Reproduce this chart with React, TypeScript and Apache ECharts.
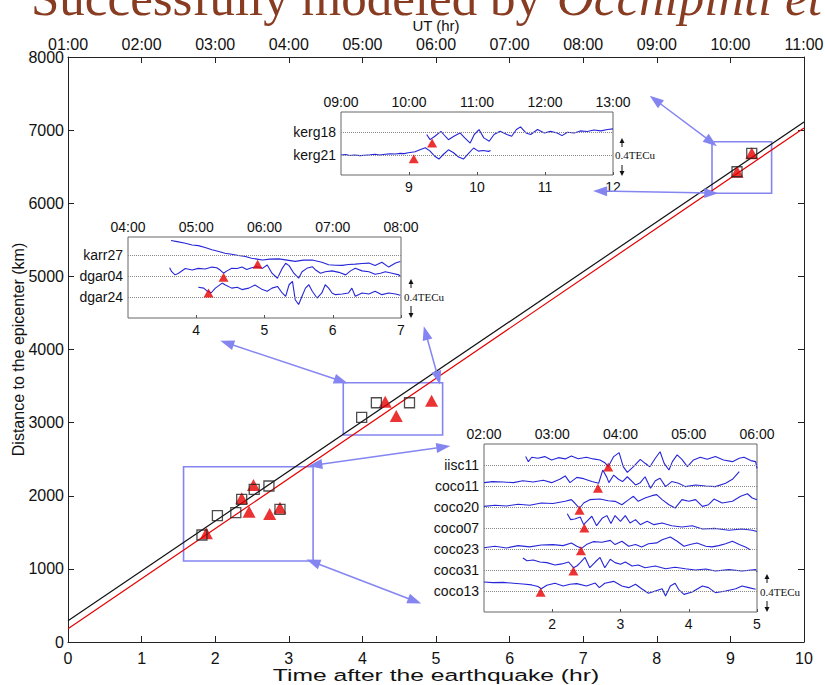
import React, { useEffect, useRef } from "react";
import * as echarts from "echarts";

// ---------- main chart data ----------
const blackFit: [number, number][] = [[0, 290], [10, 7110]];
const redFit: [number, number][] = [[0, 180], [10, 7030]];
const squares: [number, number][] = [
  [1.82, 1463], [2.03, 1727], [2.28, 1768], [2.36, 1951], [2.53, 2088], [2.73, 2133], [2.88, 1815],
  [3.99, 3073], [4.19, 3272], [4.64, 3272], [9.09, 6431], [9.29, 6683],
];
const triangles: [number, number][] = [
  [1.88, 1486], [2.36, 1965], [2.52, 2147], [2.46, 1782], [2.74, 1750], [2.88, 1837],
  [4.31, 3286], [4.46, 3091], [4.94, 3300], [9.09, 6431], [9.29, 6683],
];
const zoomBoxes: [[number, number], [number, number]][] = [
  [[8.75, 6136], [9.56, 6842]],
  [[3.74, 2831], [5.09, 3546]],
  [[1.57, 1108], [3.33, 2397]],
];
const linkArrows: [[number, number], [number, number]][] = [
  [[2.16, 4089], [3.71, 3569]],
  [[4.86, 4226], [5.03, 3610]],
  [[5.10, 2667], [3.36, 2421]],
  [[3.33, 1094], [4.71, 561]],
  [[7.98, 7412], [8.74, 6838]],
  [[7.23, 6167], [8.74, 6140]],
];
const xRange = [0, 10];
const yRange = [0, 8000];

// ---------- inset traces (t in hr, offset in station spacings) ----------
const kerg18: [number, number][] = [[9.26,-0.10],[9.31,-0.33],[9.38,-0.18],[9.47,0.04],[9.51,-0.10],[9.58,-0.33],[9.66,-0.18],[9.75,-0.03],[9.82,-0.25],[9.90,-0.48],[9.96,-0.10],[10.03,0.12],[10.10,-0.25],[10.18,-0.40],[10.25,-0.10],[10.34,0.04],[10.44,-0.10],[10.51,-0.18],[10.58,0.12],[10.64,0.24],[10.72,-0.03],[10.79,-0.10],[10.89,0.12],[10.99,-0.03],[11.08,0.04],[11.18,-0.03],[11.25,-0.15],[11.33,0.00],[11.43,-0.03],[11.52,0.06],[11.62,0.03],[11.72,0.10],[11.82,0.06],[11.92,0.12],[12.00,0.15]];
const kerg21: [number, number][] = [[8.00,-0.01],[8.07,0.01],[8.13,-0.03],[8.2,-0.01],[8.28,-0.04],[8.35,-0.02],[8.43,0.00],[8.5,0.02],[8.57,-0.01],[8.65,0.02],[8.72,0.04],[8.8,0.03],[8.87,0.06],[8.93,0.05],[8.99,0.09],[9.09,0.13],[9.16,0.22],[9.24,0.31],[9.31,0.16],[9.38,-0.07],[9.44,-0.19],[9.50,0.00],[9.58,0.22],[9.65,0.10],[9.73,-0.10],[9.80,-0.19],[9.87,0.04],[9.95,0.30],[10.02,0.16],[10.09,0.19],[10.17,0.15],[10.20,0.19]];

const karr27: [number, number][] = [[3.63,0.68],[3.72,0.63],[3.84,0.55],[3.94,0.47],[4.03,0.44],[4.13,0.35],[4.23,0.24],[4.33,0.16],[4.42,0.08],[4.52,0.03],[4.62,-0.03],[4.72,-0.08],[4.81,-0.16],[4.89,-0.20],[4.97,-0.24],[5.08,-0.20],[5.21,-0.19],[5.33,-0.25],[5.45,-0.31],[5.57,-0.25],[5.70,-0.24],[5.84,-0.35],[5.94,-0.47],[6.04,-0.49],[6.14,-0.50],[6.23,-0.46],[6.33,-0.44],[6.43,-0.41],[6.53,-0.39],[6.62,-0.50],[6.72,-0.35],[6.82,-0.58],[6.92,-0.39],[6.99,-0.31]];
const dgar04: [number, number][] = [[3.61,0.39],[3.64,0.20],[3.69,0.05],[3.74,0.13],[3.84,0.35],[3.94,0.28],[4.03,0.36],[4.13,0.33],[4.23,0.42],[4.30,0.39],[4.35,0.28],[4.40,0.13],[4.45,0.24],[4.52,0.36],[4.60,0.35],[4.67,0.42],[4.74,0.30],[4.81,0.39],[4.89,0.44],[4.97,0.36],[5.04,0.52],[5.11,0.13],[5.19,-0.11],[5.26,0.36],[5.31,0.60],[5.36,0.49],[5.43,0.13],[5.50,-0.11],[5.55,0.20],[5.62,0.36],[5.70,0.44],[5.75,0.28],[5.82,0.13],[5.89,0.20],[5.99,0.24],[6.09,0.17],[6.19,0.05],[6.26,0.24],[6.33,0.36],[6.43,0.24],[6.53,0.20],[6.62,0.08],[6.70,0.13],[6.77,0.20],[6.87,0.13],[6.97,0.05],[6.99,-0.03]];
const dgar24: [number, number][] = [[4.03,0.46],[4.11,0.42],[4.16,0.28],[4.22,0.20],[4.28,0.42],[4.38,0.66],[4.42,0.58],[4.52,0.42],[4.60,0.46],[4.67,0.35],[4.77,0.42],[4.86,0.57],[4.97,0.35],[5.04,0.27],[5.11,0.42],[5.19,0.50],[5.26,0.19],[5.31,0.03],[5.36,0.58],[5.41,0.74],[5.45,-0.13],[5.50,-0.36],[5.55,0.03],[5.60,0.42],[5.65,0.58],[5.70,0.27],[5.77,-0.05],[5.84,0.19],[5.89,0.58],[5.94,0.42],[5.99,0.19],[6.04,0.11],[6.14,0.14],[6.23,0.19],[6.28,0.42],[6.33,0.03],[6.43,0.19],[6.53,0.14],[6.62,0.27],[6.72,0.11],[6.82,0.19],[6.92,0.14],[6.99,0.08]];

const iisc11: [number, number][] = [[1.61,0.40],[1.65,0.16],[1.70,0.37],[1.79,0.32],[1.89,0.40],[1.99,0.24],[2.09,0.35],[2.19,0.29],[2.28,0.43],[2.38,0.30],[2.50,0.37],[2.60,0.29],[2.70,0.24],[2.77,0.11],[2.82,-0.08],[2.90,0.40],[2.98,0.59],[3.04,-0.08],[3.10,-0.35],[3.19,-0.08],[3.29,0.27],[3.36,0.08],[3.43,-0.08],[3.51,0.32],[3.58,0.63],[3.64,0.08],[3.71,-0.24],[3.76,0.16],[3.83,0.48],[3.90,0.27],[3.98,-0.08],[4.07,0.24],[4.17,0.37],[4.27,0.27],[4.39,0.40],[4.51,0.24],[4.64,0.16],[4.74,0.32],[4.81,0.37],[4.91,0.21],[4.98,0.16],[5.00,-0.16]];
const coco11: [number, number][] = [[1.00,0.16],[1.13,0.21],[1.28,0.19],[1.43,0.16],[1.57,0.25],[1.72,0.19],[1.87,0.27],[1.99,0.16],[2.11,0.32],[2.19,0.48],[2.26,0.16],[2.36,0.41],[2.46,0.35],[2.58,0.21],[2.68,0.13],[2.74,0.76],[2.80,0.41],[2.83,0.16],[2.90,0.52],[2.97,0.32],[3.03,0.21],[3.10,0.44],[3.22,0.05],[3.29,0.16],[3.36,0.44],[3.44,-0.11],[3.51,0.25],[3.58,0.37],[3.66,-0.03],[3.75,0.21],[3.85,0.13],[3.95,-0.03],[4.10,0.05],[4.25,0.00],[4.39,-0.03],[4.54,0.13],[4.64,0.32],[4.74,0.68]];
const coco20: [number, number][] = [[1.00,0.03],[1.16,0.08],[1.33,0.05],[1.50,0.13],[1.67,0.08],[1.84,0.19],[2.01,0.17],[2.19,0.27],[2.28,0.35],[2.33,0.19],[2.40,-0.06],[2.46,0.19],[2.55,0.35],[2.70,0.38],[2.82,0.30],[2.92,0.27],[3.02,0.11],[3.12,0.35],[3.19,0.51],[3.26,0.27],[3.36,0.43],[3.46,0.54],[3.53,0.59],[3.61,0.35],[3.71,0.11],[3.80,-0.05],[3.90,0.35],[4.00,0.27],[4.10,0.35],[4.20,0.03],[4.29,0.11],[4.37,0.38],[4.49,0.19],[4.64,0.27],[4.76,0.51],[4.86,0.63],[4.93,0.43],[5.00,0.35]];
const coco07: [number, number][] = [[2.22,0.68],[2.27,0.40],[2.33,0.43],[2.41,0.52],[2.46,0.16],[2.51,0.33],[2.58,0.56],[2.65,0.11],[2.73,0.46],[2.80,0.59],[2.86,0.21],[2.92,0.59],[3.00,0.32],[3.07,0.59],[3.14,0.24],[3.22,0.40],[3.29,0.16],[3.39,0.32],[3.49,0.16],[3.61,0.24],[3.75,0.11],[3.90,0.05],[4.05,0.11],[4.20,-0.05],[4.39,-0.02],[4.59,-0.11],[4.78,-0.05],[4.93,-0.11],[5.00,-0.17]];
const coco23: [number, number][] = [[1.00,0.06],[1.16,0.13],[1.33,0.05],[1.50,0.16],[1.67,0.10],[1.84,0.19],[2.01,0.21],[2.16,0.16],[2.28,0.29],[2.36,0.13],[2.43,0.03],[2.50,0.21],[2.60,0.35],[2.73,0.32],[2.85,0.41],[2.92,0.21],[3.02,0.37],[3.12,0.13],[3.22,0.21],[3.31,0.10],[3.41,0.25],[3.53,0.29],[3.61,0.44],[3.73,0.57],[3.83,0.37],[3.93,0.13],[4.02,0.21],[4.12,0.29],[4.25,0.13],[4.34,0.10],[4.44,0.16],[4.54,0.25],[4.64,0.37],[4.74,0.21],[4.83,0.10],[4.90,-0.03]];
const coco31: [number, number][] = [[1.57,0.57],[1.63,0.44],[1.72,0.48],[1.82,0.38],[1.92,0.35],[2.04,0.24],[2.14,0.29],[2.24,0.38],[2.31,0.11],[2.36,0.19],[2.41,0.35],[2.48,0.60],[2.55,0.11],[2.63,0.38],[2.70,0.60],[2.77,0.11],[2.85,0.51],[2.92,0.35],[3.00,0.27],[3.07,0.38],[3.17,0.19],[3.26,0.24],[3.36,0.11],[3.51,0.19],[3.66,0.06],[3.80,0.13],[3.95,0.06],[4.10,0.00],[4.25,0.05],[4.39,-0.05],[4.59,0.02],[4.78,-0.05],[4.98,0.02],[5.00,-0.08]];
const coco13: [number, number][] = [[1.00,0.43],[1.13,0.40],[1.28,0.41],[1.43,0.37],[1.57,0.33],[1.70,0.29],[1.79,0.21],[1.84,0.11],[1.92,0.27],[2.04,0.37],[2.16,0.24],[2.26,0.32],[2.36,0.35],[2.50,0.24],[2.63,0.38],[2.69,0.16],[2.77,0.37],[2.90,0.46],[3.02,0.24],[3.12,0.16],[3.22,0.32],[3.31,0.11],[3.41,-0.11],[3.51,0.00],[3.61,0.11],[3.66,-0.24],[3.73,0.24],[3.80,0.37],[3.85,0.08],[3.93,-0.16],[4.05,-0.05],[4.20,0.24],[4.29,0.16],[4.39,-0.08],[4.54,0.00],[4.69,0.11],[4.78,0.24],[4.88,0.16],[4.98,0.08]];

// onset picks [t, offset]
const kergPicks: [number, number][] = [[9.34, -0.48], [9.07, -0.18]];
const karrPicks: [number, number][] = [[4.90, -0.44], [4.40, -0.06], [4.18, 0.19]];
const cocoPicks: [number, number][] = [[2.82, -0.10], [2.67, -0.11], [2.40, -0.15], [2.47, 0.0], [2.42, -0.08], [2.31, -0.05], [1.83, -0.06]];

const kergNames = ["kerg18", "kerg21"];
const karrNames = ["karr27", "dgar04", "dgar24"];
const cocoNames = ["iisc11", "coco11", "coco20", "coco07", "coco23", "coco31", "coco13"];

const SANS = '"Liberation Sans", Arial, sans-serif';
const SERIF = '"Liberation Serif", "Times New Roman", serif';
const TRACE = "#2626d8";
const LINK = "#8585f2";
const RED = "#e60000";

const ut = (v: number) => String(v + 1).padStart(2, "0") + ":00";

interface InsetDef {
  grid: { left: number; top: number; width: number; height: number };
  x: [number, number];
  y: [number, number];
  names: string[];
  traces: [number, number][][];
  picks: [number, number][];
}

const insets: InsetDef[] = [
  { grid: { left: 341, top: 112, width: 272, height: 63 }, x: [8, 12], y: [0.1, 2.9], names: kergNames, traces: [kerg18, kerg21], picks: kergPicks },
  { grid: { left: 128, top: 237, width: 273, height: 81 }, x: [3, 7], y: [0, 3.85], names: karrNames, traces: [karr27, dgar04, dgar24], picks: karrPicks },
  { grid: { left: 484, top: 444, width: 273, height: 168 }, x: [1, 5], y: [0, 8], names: cocoNames, traces: [iisc11, coco11, coco20, coco07, coco23, coco31, coco13], picks: cocoPicks },
];

function scaleBar(x: number, textX: number, textY: number, upTip: number, upBase: number, downBase: number, downTip: number) {
  const c = "#111";
  return [
    { type: "line", shape: { x1: x, y1: upBase, x2: x, y2: upTip + 4 }, style: { stroke: c, lineWidth: 1 } },
    { type: "polygon", shape: { points: [[x - 2.5, upTip + 5], [x + 2.5, upTip + 5], [x, upTip]] }, style: { fill: c } },
    { type: "line", shape: { x1: x, y1: downBase, x2: x, y2: downTip - 4 }, style: { stroke: c, lineWidth: 1 } },
    { type: "polygon", shape: { points: [[x - 2.5, downTip - 5], [x + 2.5, downTip - 5], [x, downTip]] }, style: { fill: c } },
    { type: "text", x: textX, y: textY, style: { text: "0.4TECu", fontFamily: SERIF, fontSize: 11, fill: "#111", align: "left", verticalAlign: "middle" } },
  ];
}

function buildOption() {
  const grids: any[] = [{ left: 68, top: 57, width: 736, height: 585, show: false, containLabel: false, outerBoundsMode: "none" }];
  const xAxes: any[] = [
    {
      type: "value", gridIndex: 0, min: xRange[0], max: xRange[1], interval: 1, position: "bottom",
      axisLine: { show: true, onZero: false, lineStyle: { color: "#222", width: 1 } },
      axisTick: { show: true, inside: true, length: 6, lineStyle: { color: "#222" } },
      axisLabel: { fontSize: 16, color: "#111", margin: 8, fontFamily: SANS },
      splitLine: { show: false },
    },
    {
      type: "value", gridIndex: 0, min: xRange[0], max: xRange[1], interval: 1, position: "top",
      axisLine: { show: true, onZero: false, lineStyle: { color: "#222", width: 1 } },
      axisTick: { show: true, inside: true, length: 6, lineStyle: { color: "#222" } },
      axisLabel: { fontSize: 16, color: "#111", margin: 5, fontFamily: SANS, formatter: (v: number) => ut(v) },
      splitLine: { show: false },
      name: "UT (hr)", nameLocation: "middle", nameGap: 24, nameMoveOverlap: false,
      nameTextStyle: { fontSize: 15, color: "#111", fontFamily: SANS },
    },
  ];
  const yAxes: any[] = [
    {
      type: "value", gridIndex: 0, min: yRange[0], max: yRange[1], interval: 1000, position: "left",
      axisLine: { show: true, onZero: false, lineStyle: { color: "#222", width: 1 } },
      axisTick: { show: true, inside: true, length: 6, lineStyle: { color: "#222" } },
      axisLabel: { fontSize: 16, color: "#111", margin: 4, fontFamily: SANS, formatter: (v: number) => String(v) },
      splitLine: { show: false },
      name: "Distance to the epicenter (km)", nameLocation: "middle", nameGap: 42, nameRotate: 90, nameMoveOverlap: false,
      nameTextStyle: { fontSize: 16, color: "#111", fontFamily: SANS },
    },
    {
      type: "value", gridIndex: 0, min: yRange[0], max: yRange[1], interval: 1000, position: "right",
      axisLine: { show: true, onZero: false, lineStyle: { color: "#222", width: 1 } },
      axisTick: { show: true, inside: true, length: 6, lineStyle: { color: "#222" } },
      axisLabel: { show: false },
      splitLine: { show: false },
    },
  ];

  const series: any[] = [
    {
      type: "line", xAxisIndex: 0, yAxisIndex: 0, data: blackFit, symbol: "none",
      lineStyle: { color: "#111", width: 1.2 }, z: 3,
      markLine: {
        silent: true, symbol: ["triangle", "triangle"], symbolSize: [10, 14],
        lineStyle: { color: LINK, width: 1.5, type: "solid" },
        itemStyle: { color: LINK },
        label: { show: false },
        data: linkArrows.map(([a, b]) => [{ coord: a }, { coord: b }]),
      },
    },
    {
      type: "line", xAxisIndex: 0, yAxisIndex: 0, data: redFit, symbol: "none",
      lineStyle: { color: RED, width: 1.2 }, z: 3,
      markArea: {
        silent: true,
        itemStyle: { color: "rgba(0,0,0,0)", borderColor: LINK, borderWidth: 1.6 },
        label: { show: false },
        data: zoomBoxes.map(([a, b]) => [{ coord: a }, { coord: b }]),
      },
    },
    {
      type: "scatter", xAxisIndex: 0, yAxisIndex: 0, data: triangles, symbol: "triangle", symbolSize: [13, 12],
      itemStyle: { color: RED }, z: 5,
    },
    {
      type: "scatter", xAxisIndex: 0, yAxisIndex: 0, data: squares, symbol: "rect", symbolSize: 10,
      itemStyle: { color: "rgba(0,0,0,0)", borderColor: "#222", borderWidth: 1.3 }, z: 6,
    },
  ];

  insets.forEach((ins, k) => {
    const gi = k + 1;
    grids.push({ ...ins.grid, show: true, backgroundColor: "#fff", borderColor: "#666", borderWidth: 1, containLabel: false, outerBoundsMode: "none" });
    const xb = xAxes.length;
    xAxes.push({
      type: "value", gridIndex: gi, min: ins.x[0], max: ins.x[1], interval: 1, position: "bottom",
      axisLine: { show: false, onZero: false },
      axisTick: { show: true, inside: true, length: 3, lineStyle: { color: "#555" } },
      axisLabel: { fontSize: 14, color: "#111", margin: 5, fontFamily: SANS, showMinLabel: false },
      splitLine: { show: false },
    });
    xAxes.push({
      type: "value", gridIndex: gi, min: ins.x[0], max: ins.x[1], interval: 1, position: "top",
      axisLine: { show: false, onZero: false },
      axisTick: { show: false },
      axisLabel: { fontSize: 14, color: "#111", margin: 3, fontFamily: SANS, formatter: (v: number) => ut(v) },
      splitLine: { show: false },
    });
    const n = ins.names.length;
    const levels = ins.names.map((_, i) => n - i);
    const yi = yAxes.length;
    yAxes.push({
      type: "value", gridIndex: gi, min: ins.y[0], max: ins.y[1], position: "left",
      axisLine: { show: false, onZero: false },
      axisTick: { show: false },
      axisLabel: {
        fontSize: 14, color: "#111", margin: 5, fontFamily: SANS,
        customValues: levels,
        formatter: (v: number) => ins.names[n - Math.round(v)] ?? "",
      },
      splitLine: { show: false },
    });
    ins.traces.forEach((tr, i) => {
      const lv = levels[i];
      series.push({
        type: "line", xAxisIndex: xb, yAxisIndex: yi, symbol: "none",
        data: tr.map(([t, o]) => [t, lv + o]),
        lineStyle: { color: TRACE, width: 1.1 }, z: 4,
        markLine: {
          silent: true, symbol: "none", label: { show: false },
          lineStyle: { color: "#888", width: 1, type: "dotted" },
          data: [{ yAxis: lv }],
        },
      });
    });
    series.push({
      type: "scatter", xAxisIndex: xb, yAxisIndex: yi, symbol: "triangle", symbolSize: [10, 9],
      data: ins.picks.map(([t, o], i) => [t, levels[i] + o]),
      itemStyle: { color: RED }, z: 6,
    });
  });

  const graphic: any[] = [
    { type: "text", x: 31, y: -2, style: { text: "Successfully modeled by", fontFamily: SERIF, fontSize: 51, fill: "#883c22", align: "left", verticalAlign: "middle" } },
    { type: "text", x: 557, y: -2, style: { text: "Occhipinti et", fontFamily: SERIF, fontStyle: "italic", fontSize: 51, fill: "#883c22", align: "left", verticalAlign: "middle" } },
    { type: "text", x: 436, y: 675, scaleX: 1.45, style: { text: "Time after the earthquake (hr)", fontFamily: SANS, fontSize: 17, fill: "#111", align: "center", verticalAlign: "middle" } },
    ...scaleBar(622, 615, 155, 138, 147, 165, 176),
    ...scaleBar(411, 404, 297, 279, 288, 306, 318),
    ...scaleBar(767, 760, 592, 574, 583, 601, 612),
  ];

  return { animation: false, backgroundColor: "#fff", grid: grids, xAxis: xAxes, yAxis: yAxes, series, graphic };
}

export default function App() {
  const ref = useRef<HTMLDivElement>(null);
  useEffect(() => {
    if (!ref.current) return;
    const chart = echarts.init(ref.current, undefined, { renderer: "svg" });
    chart.setOption(buildOption() as any);
    return () => chart.dispose();
  }, []);
  return <div ref={ref} style={{ position: "fixed", left: 0, top: 0, width: 825, height: 685 }} />;
}
